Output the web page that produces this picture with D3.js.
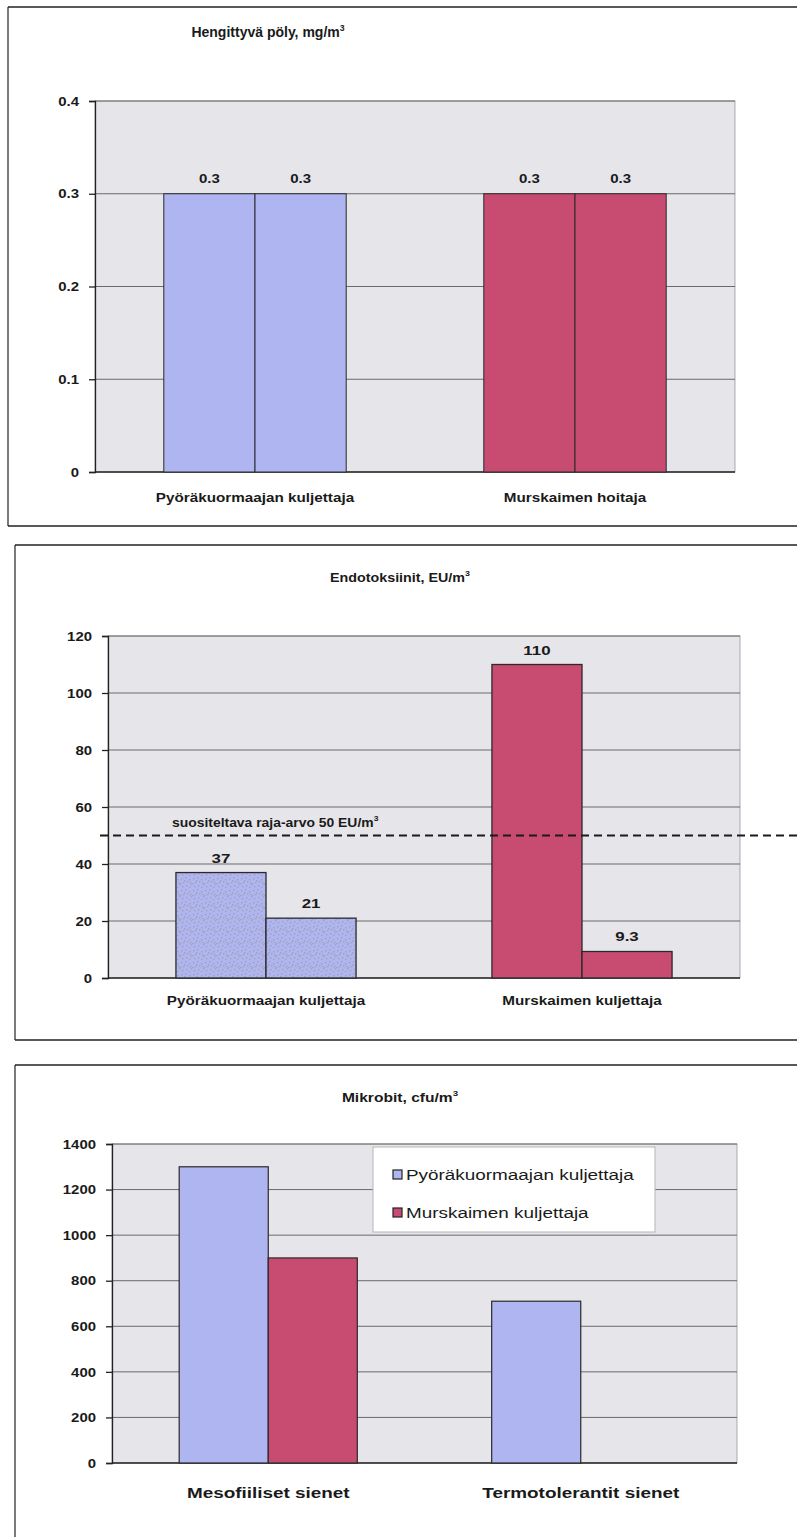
<!DOCTYPE html>
<html>
<head>
<meta charset="utf-8">
<script src="https://cdn.jsdelivr.net/npm/d3@7"></script>
<style>
  html, body { margin: 0; padding: 0; background: #fff; }
  svg { display: block; }
  text { font-family: "Liberation Sans", Arial, sans-serif; fill: #1a1a1a; }
</style>
</head>
<body>
<svg id="chart" width="797" height="1537"></svg>
<script>
// Hengittyvä pöly (respirable dust), mg/m3
const dustGroups = ["Pyöräkuormaajan kuljettaja", "Murskaimen hoitaja"];
const dustValues = [[0.3, 0.3], [0.3, 0.3]];
const dustTicks = [0, 0.1, 0.2, 0.3, 0.4];

// Endotoksiinit, EU/m3
const endoGroups = ["Pyöräkuormaajan kuljettaja", "Murskaimen kuljettaja"];
const endoValues = [[37, 21], [110, 9.3]];
const endoTicks = [0, 20, 40, 60, 80, 100, 120];
const endoLimit = 50;

// Mikrobit, cfu/m3
const microCategories = ["Mesofiiliset sienet", "Termotolerantit sienet"];
const microSeries = ["Pyöräkuormaajan kuljettaja", "Murskaimen kuljettaja"];
const microLoader = [1300, 710];
const microCrusher = [900, null];
const microTicks = [0, 200, 400, 600, 800, 1000, 1200, 1400];

const BLUE = "#aeb5f1";
const RED = "#c84b72";
const PLOT_BG = "#e6e5ea";
const GRID = "#6a6a6a";

const svg = d3.select("#chart");

// widen glyphs horizontally around each text's anchor point
function widen(sel, sx) {
  sel.each(function () {
    const t = d3.select(this);
    const x = +t.attr("x") || 0;
    const y = +t.attr("y") || 0;
    t.attr("transform", `translate(${x},${y}) scale(${sx},1) translate(${-x},${-y})`);
  });
  return sel;
}

// stipple texture used for the loader-driver endotoxin bars
const defs = svg.append("defs");
const pat = defs.append("pattern")
  .attr("id", "stipple").attr("patternUnits", "userSpaceOnUse")
  .attr("width", 12).attr("height", 12);
pat.append("rect").attr("width", 12).attr("height", 12).attr("fill", BLUE);
[[1,2],[5,1],[9,3],[3,6],[7,5],[11,8],[2,10],[6,9],[9,11],[4,4],[10,6],[0,7]].forEach(([x, y]) => {
  pat.append("rect").attr("x", x).attr("y", y).attr("width", 1.4).attr("height", 1.4).attr("fill", "#a2a2ae");
});

// panel frames (left edge, top and bottom rules)
function frame(x, y0, y1, bottom) {
  svg.append("line").attr("x1", x).attr("x2", x).attr("y1", y0).attr("y2", y1)
    .attr("stroke", "#222").attr("stroke-width", 1.2);
  svg.append("line").attr("x1", x).attr("x2", 797).attr("y1", y0).attr("y2", y0)
    .attr("stroke", "#222").attr("stroke-width", 1.5);
  if (bottom) svg.append("line").attr("x1", x).attr("x2", 797).attr("y1", y1).attr("y2", y1)
    .attr("stroke", "#222").attr("stroke-width", 1.5);
}
frame(8, 7, 526, true);
frame(15, 545, 1040, true);
frame(15, 1065, 1537, false);

function title(x, y, main, size, sx) {
  const t = svg.append("text").attr("x", x).attr("y", y).attr("text-anchor", "middle")
    .attr("font-weight", "bold").attr("font-size", size);
  t.append("tspan").text(main);
  t.append("tspan").attr("font-size", size * 0.62).attr("dy", -size * 0.45).text("3");
  widen(t, sx);
}

function plotFrame(x, y, tickVals, fmt, tickFont) {
  const [x0, x1] = x.range();
  const [yb, yt] = y.range();
  svg.append("rect").attr("x", x0).attr("y", yt).attr("width", x1 - x0).attr("height", yb - yt)
    .attr("fill", PLOT_BG).attr("stroke", "#9a9a9a").attr("stroke-width", 0.8);
  svg.append("g").selectAll("line").data(tickVals.slice(1)).join("line")
    .attr("x1", x0).attr("x2", x1).attr("y1", d => y(d)).attr("y2", d => y(d))
    .attr("stroke", GRID).attr("stroke-width", 1);
  const ax = svg.append("g").attr("transform", `translate(${x0},0)`)
    .call(d3.axisLeft(y).tickValues(tickVals).tickFormat(fmt).tickSize(6).tickPadding(10));
  ax.select(".domain").attr("stroke", "#222").attr("stroke-width", 1.3);
  ax.selectAll(".tick line").attr("stroke", "#222").attr("stroke-width", 1.3);
  const tt = ax.selectAll(".tick text").attr("font-weight", "bold").attr("font-size", tickFont)
    .attr("font-family", "Liberation Sans, Arial, sans-serif").attr("fill", "#1a1a1a");
  widen(tt, 1.15);
  svg.append("line").attr("x1", x0).attr("x2", x1).attr("y1", yb).attr("y2", yb)
    .attr("stroke", "#222").attr("stroke-width", 1.3);
}

function groupLabels(x, labels, y, size) {
  const t = svg.append("g").selectAll("text").data(labels).join("text")
    .attr("x", d => x(d) + x.bandwidth() / 2).attr("y", y)
    .attr("text-anchor", "middle").attr("font-weight", "bold").attr("font-size", size).text(d => d);
  widen(t, 1.22);
}

function valueLabel(cx, y, v, size) {
  const t = svg.append("text").attr("x", cx).attr("y", y)
    .attr("text-anchor", "middle").attr("font-weight", "bold").attr("font-size", size).text(v);
  widen(t, 1.25);
}

// ---------- Panel 1: Hengittyvä pöly ----------
{
  const x = d3.scaleBand().domain(dustGroups).range([95, 735]).paddingInner(0.43).paddingOuter(0.215);
  const inner = d3.scaleBand().domain([0, 1]).range([0, x.bandwidth()]);
  const y = d3.scaleLinear().domain([0, 0.4]).range([472, 101]);
  title(268, 37, "Hengittyvä pöly, mg/m", 14, 1.0);
  plotFrame(x, y, dustTicks, d3.format(".1~f"), 13);
  const colors = [BLUE, RED];
  dustGroups.forEach((g, gi) => {
    dustValues[gi].forEach((v, i) => {
      svg.append("rect").attr("x", x(g) + inner(i)).attr("y", y(v))
        .attr("width", inner.bandwidth()).attr("height", y(0) - y(v))
        .attr("fill", colors[gi]).attr("stroke", "#2a2a2a").attr("stroke-width", 1);
      valueLabel(x(g) + inner(i) + inner.bandwidth() / 2, y(v) - 11, v, 12);
    });
  });
  groupLabels(x, dustGroups, 502, 12.5);
}

// ---------- Panel 2: Endotoksiinit ----------
{
  const x = d3.scaleBand().domain(endoGroups).range([108, 740]).paddingInner(0.43).paddingOuter(0.215);
  const inner = d3.scaleBand().domain([0, 1]).range([0, x.bandwidth()]);
  const y = d3.scaleLinear().domain([0, 120]).range([978, 636]);
  title(400, 582, "Endotoksiinit, EU/m", 13, 1.1);
  plotFrame(x, y, endoTicks, d3.format("d"), 13);
  const fills = ["url(#stipple)", RED];
  endoGroups.forEach((g, gi) => {
    endoValues[gi].forEach((v, i) => {
      svg.append("rect").attr("x", x(g) + inner(i)).attr("y", y(v))
        .attr("width", inner.bandwidth()).attr("height", y(0) - y(v))
        .attr("fill", fills[gi]).attr("stroke", "#2a2a2a").attr("stroke-width", 1.3);
      valueLabel(x(g) + inner(i) + inner.bandwidth() / 2, y(v) - 10, v, 13.5);
    });
  });
  // recommended limit value
  svg.append("line").attr("x1", 100).attr("x2", 797).attr("y1", y(endoLimit)).attr("y2", y(endoLimit))
    .attr("stroke", "#1a1a1a").attr("stroke-width", 2).attr("stroke-dasharray", "8,5");
  const lt = svg.append("text").attr("x", 172).attr("y", y(endoLimit) - 8)
    .attr("font-weight", "bold").attr("font-size", 13);
  lt.append("tspan").text("suositeltava raja-arvo 50 EU/m");
  lt.append("tspan").attr("font-size", 8).attr("dy", -6).text("3");
  widen(lt, 1.07);
  groupLabels(x, endoGroups, 1005, 12.5);
}

// ---------- Panel 3: Mikrobit ----------
{
  const x = d3.scaleBand().domain(microCategories).range([112, 737]).paddingInner(0.43).paddingOuter(0.215);
  const inner = d3.scaleBand().domain(microSeries).range([0, x.bandwidth()]);
  const y = d3.scaleLinear().domain([0, 1400]).range([1463, 1144]);
  title(400, 1102, "Mikrobit, cfu/m", 13, 1.2);
  plotFrame(x, y, microTicks, d3.format("d"), 13);
  const series = [
    { name: microSeries[0], values: microLoader, color: BLUE },
    { name: microSeries[1], values: microCrusher, color: RED }
  ];
  series.forEach(s => {
    s.values.forEach((v, ci) => {
      if (v == null) return;
      const c = microCategories[ci];
      svg.append("rect").attr("x", x(c) + inner(s.name)).attr("y", y(v))
        .attr("width", inner.bandwidth()).attr("height", y(0) - y(v))
        .attr("fill", s.color).attr("stroke", "#2a2a2a").attr("stroke-width", 1.2);
    });
  });
  groupLabels(x, microCategories, 1498, 15.5);

  // legend
  const lg = svg.append("g").attr("transform", "translate(373,1147)");
  lg.append("rect").attr("width", 282).attr("height", 85).attr("fill", "#fff")
    .attr("stroke", "#b5b5b5").attr("stroke-width", 1);
  series.forEach((s, i) => {
    const row = lg.append("g").attr("transform", `translate(20,${28 + i * 38})`);
    row.append("rect").attr("x", 0).attr("y", -5).attr("width", 9).attr("height", 9)
      .attr("fill", s.color).attr("stroke", "#222").attr("stroke-width", 1.2);
    const t = row.append("text").attr("x", 13).attr("y", 5).attr("font-size", 15).text(s.name);
    widen(t, 1.26);
  });
}
</script>
</body>
</html>
